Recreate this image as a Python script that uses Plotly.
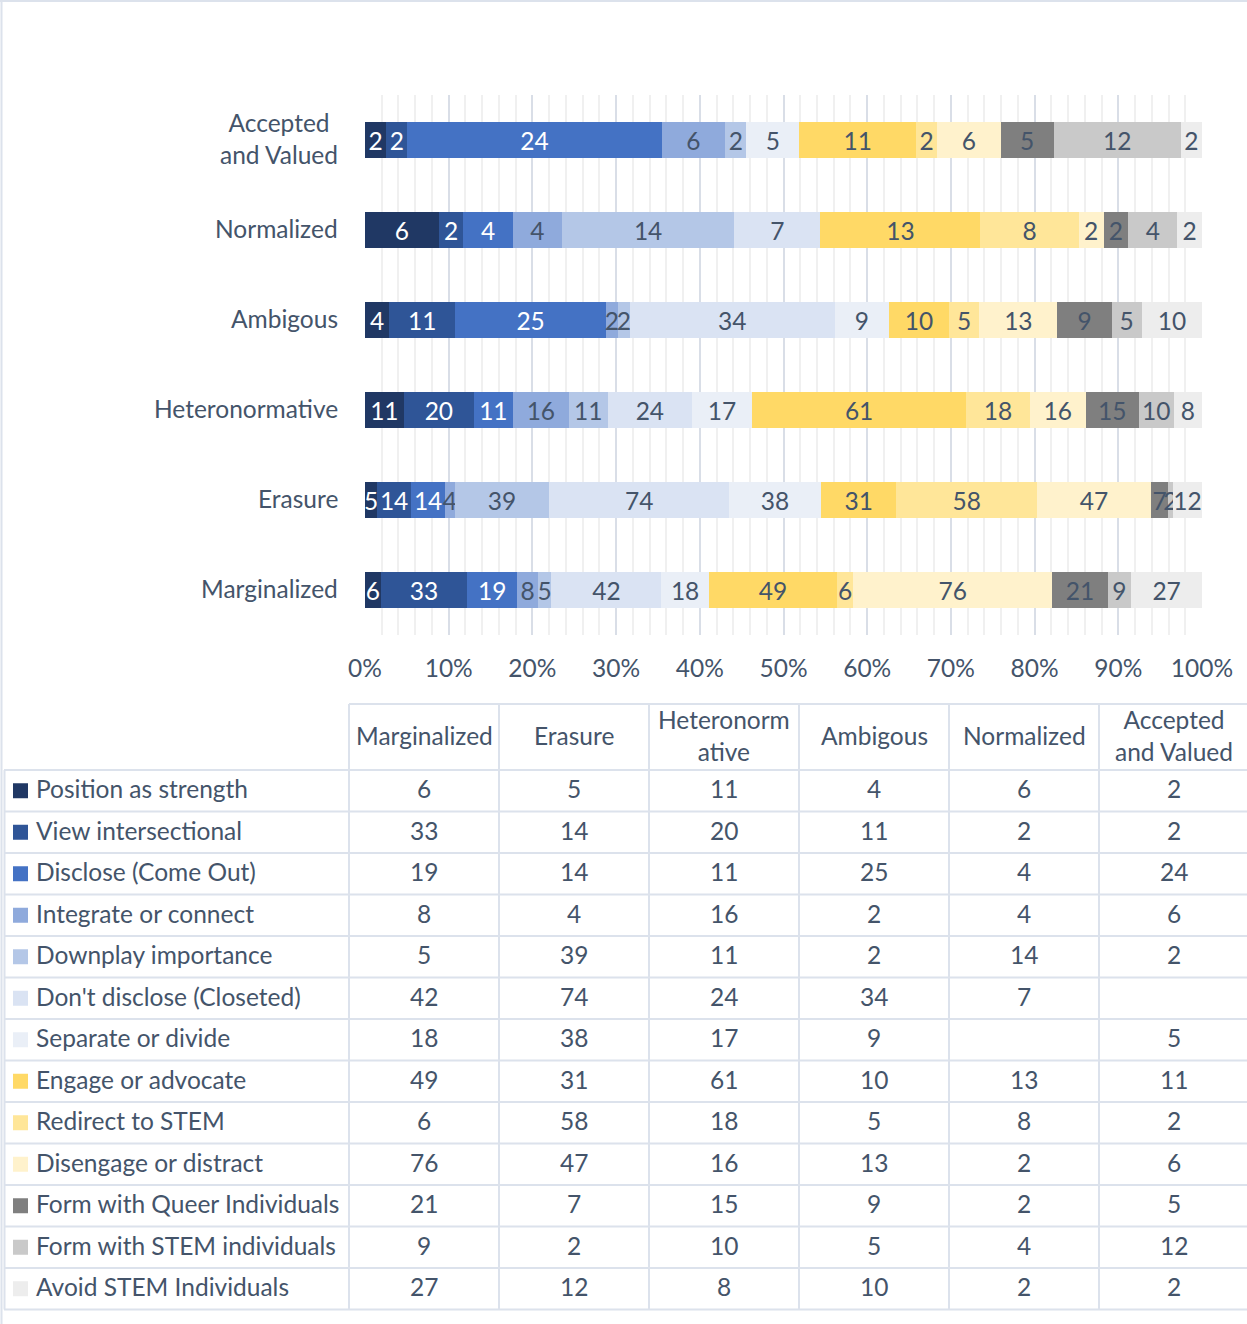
import plotly.graph_objects as go

# ---------------- data ----------------
groups = ["Marginalized", "Erasure", "Heteronormative", "Ambigous", "Normalized", "Accepted and Valued"]
group_labels = ["Marginalized", "Erasure", "Heteronormative", "Ambigous", "Normalized", "Accepted<br>and Valued"]
header_labels = ["Marginalized", "Erasure", "Heteronorm<br>ative", "Ambigous", "Normalized", "Accepted<br>and Valued"]
x_tick_values = [0, 10, 20, 30, 40, 50, 60, 70, 80, 90, 100]
x_tick_labels = ["0%", "10%", "20%", "30%", "40%", "50%", "60%", "70%", "80%", "90%", "100%"]

strategies = [
    "Position as strength", "View intersectional", "Disclose (Come Out)", "Integrate or connect",
    "Downplay importance", "Don't disclose (Closeted)", "Separate or divide", "Engage or advocate",
    "Redirect to STEM", "Disengage or distract", "Form with Queer Individuals",
    "Form with STEM individuals", "Avoid STEM Individuals",
]

position_as_strength = [6, 5, 11, 4, 6, 2]
view_intersectional = [33, 14, 20, 11, 2, 2]
disclose_come_out = [19, 14, 11, 25, 4, 24]
integrate_or_connect = [8, 4, 16, 2, 4, 6]
downplay_importance = [5, 39, 11, 2, 14, 2]
dont_disclose = [42, 74, 24, 34, 7, None]
separate_or_divide = [18, 38, 17, 9, None, 5]
engage_or_advocate = [49, 31, 61, 10, 13, 11]
redirect_to_stem = [6, 58, 18, 5, 8, 2]
disengage_or_distract = [76, 47, 16, 13, 2, 6]
form_with_queer = [21, 7, 15, 9, 2, 5]
form_with_stem = [9, 2, 10, 5, 4, 12]
avoid_stem = [27, 12, 8, 10, 2, 2]

series_values = [
    position_as_strength, view_intersectional, disclose_come_out, integrate_or_connect,
    downplay_importance, dont_disclose, separate_or_divide, engage_or_advocate,
    redirect_to_stem, disengage_or_distract, form_with_queer, form_with_stem, avoid_stem,
]

# ---------------- styles ----------------
colors = ["#203864", "#2F5597", "#4472C4", "#8FAADC", "#B4C7E7", "#DAE3F3", "#EAEFF7",
          "#FFD966", "#FFE699", "#FFF2CC", "#7F7F7F", "#C9C9C9", "#EDEDED"]
TEXT = "#44546A"
label_colors = ["#FFFFFF", "#FFFFFF", "#FFFFFF"] + [TEXT] * 10
FONT = "Lato"
FS = 24.5
LINE = "#DCE2EC"

W, H = 1247, 1324


def px(x):
    return x / W


def py(y):
    return 1 - y / H


fig = go.Figure()
for name, vals, col, tcol in zip(strategies, series_values, colors, label_colors):
    fig.add_trace(go.Bar(
        name=name, y=groups, x=vals, orientation="h",
        marker=dict(color=col, line=dict(width=0)),
        text=["" if v is None else str(v) for v in vals],
        texttemplate="%{text}",
        textposition="inside", insidetextanchor="middle",
        textfont=dict(family=FONT, size=FS, color=tcol),
        showlegend=False, hoverinfo="skip",
    ))

shapes = []
annotations = []

# category labels
for g, lab in zip(groups, group_labels):
    annotations.append(dict(xref="paper", yref="y", x=px(340), y=g, text=lab, showarrow=False,
                            xanchor="right", yanchor="middle", align="center", yshift=2,
                            font=dict(family=FONT, size=FS, color=TEXT)))

# chart border (top/left)
shapes.append(dict(type="line", xref="paper", yref="paper", x0=0, x1=1, y0=py(1), y1=py(1),
                   line=dict(color=LINE, width=2)))
shapes.append(dict(type="line", xref="paper", yref="paper", x0=px(1.5), x1=px(1.5), y0=0, y1=1,
                   line=dict(color=LINE, width=2)))

# data table
col_left = 349
col_w = 150
n_cols = len(groups)
head_top, head_bot = 704, 770
row_h = 41.5
n_rows = len(strategies)
table_bot = head_bot + n_rows * row_h

shapes.append(dict(type="line", xref="paper", yref="paper", x0=px(col_left), x1=1,
                   y0=py(head_top), y1=py(head_top), line=dict(color=LINE, width=2)))
for r in range(n_rows + 1):
    yy = head_bot + r * row_h
    shapes.append(dict(type="line", xref="paper", yref="paper", x0=px(4), x1=1,
                       y0=py(yy), y1=py(yy), line=dict(color=LINE, width=2)))
shapes.append(dict(type="line", xref="paper", yref="paper", x0=px(4.5), x1=px(4.5),
                   y0=py(head_bot), y1=py(table_bot), line=dict(color=LINE, width=2)))
for c in range(n_cols + 1):
    xx = col_left + c * col_w
    shapes.append(dict(type="line", xref="paper", yref="paper", x0=px(xx), x1=px(xx),
                       y0=py(head_top), y1=py(table_bot), line=dict(color=LINE, width=2)))

for c, lab in enumerate(header_labels):
    annotations.append(dict(xref="paper", yref="paper", x=px(col_left + (c + 0.5) * col_w),
                            y=py((head_top + head_bot) / 2), text=lab, showarrow=False,
                            xanchor="center", yanchor="middle", align="center", yshift=1,
                            font=dict(family=FONT, size=FS, color=TEXT)))

for r, (name, vals, col) in enumerate(zip(strategies, series_values, colors)):
    yc = head_bot + (r + 0.5) * row_h
    shapes.append(dict(type="rect", xref="paper", yref="paper", x0=px(13), x1=px(28),
                       y0=py(yc - 7.5), y1=py(yc + 7.5), fillcolor=col, line=dict(width=0)))
    annotations.append(dict(xref="paper", yref="paper", x=px(34), y=py(yc), text=name,
                            showarrow=False, xanchor="left", yanchor="middle", yshift=2,
                            font=dict(family=FONT, size=FS, color=TEXT)))
    for c, v in enumerate(vals):
        if v is None:
            continue
        annotations.append(dict(xref="paper", yref="paper", x=px(col_left + (c + 0.5) * col_w),
                                y=py(yc), text=str(v), showarrow=False, yshift=2,
                                xanchor="center", yanchor="middle",
                                font=dict(family=FONT, size=FS, color=TEXT)))

fig.update_layout(
    width=W, height=H, autosize=False,
    margin=dict(l=0, r=0, t=0, b=0, pad=0, autoexpand=False),
    paper_bgcolor="white", plot_bgcolor="white",
    barmode="stack", barnorm="percent", bargap=0.6,
    uniformtext=dict(minsize=FS, mode="show"),
    font=dict(family=FONT, size=FS, color=TEXT),
    xaxis=dict(domain=[px(365), px(1202)], range=[0, 100], automargin=False,
               tickmode="array", tickvals=x_tick_values, ticktext=x_tick_labels,
               showgrid=True, gridcolor="#D9DEE7", gridwidth=2,
               minor=dict(dtick=2, showgrid=True, gridcolor="#F0F0F0", gridwidth=2),
               zeroline=False, showline=False, ticks="",
               tickfont=dict(family=FONT, size=FS, color=TEXT),
               ticklabelstandoff=16, fixedrange=True),
    yaxis=dict(domain=[py(635), py(95)], categoryorder="array", categoryarray=groups,
               automargin=False,
               showticklabels=False, showgrid=False, zeroline=False, showline=False,
               fixedrange=True),
    shapes=shapes,
    annotations=annotations,
)

fig.write_html(
    "out.html",
    config={"responsive": False, "displayModeBar": False},
    post_script="document.body.style.margin='0';document.body.style.overflow='hidden';",
)
